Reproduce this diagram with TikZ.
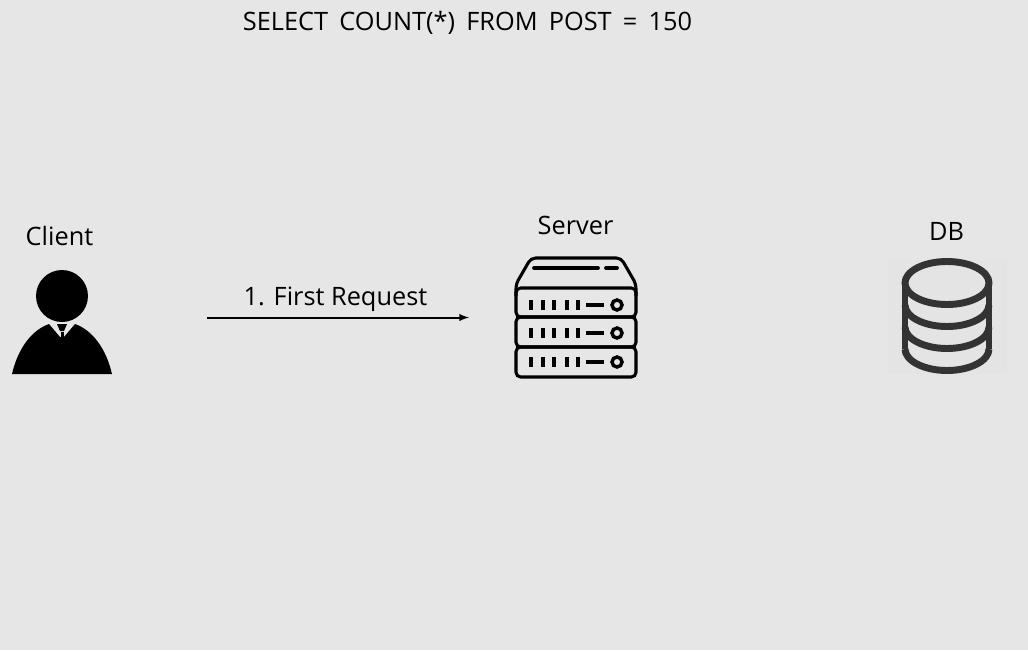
\documentclass[tikz,border=0pt]{standalone}
\usepackage{fontspec}
\setmainfont{Open Sans}
\definecolor{bggray}{HTML}{E6E6E6}
\definecolor{dbgray}{HTML}{333333}
\tikzset{
  label/.style = {font=\fontsize{19}{24}\selectfont, text=black, inner sep=0pt, anchor=base},
  rack/.style = {draw=black, line width=2.3pt, rounded corners=3.5pt},
  slot/.style = {draw=black, line width=2.8pt},
  dbline/.style = {draw=dbgray, line width=5.2pt}
}

\begin{document}
\begin{tikzpicture}[x=0.75pt, y=-0.75pt]
  \fill[bggray] (0,0) rectangle (1028,650);
  \useasboundingbox (0,0) rectangle (1028,650);

  \node[label] (query) at (467.5,30) {\spaceskip=8.4pt SELECT COUNT(*) FROM POST = 150};
  \node[label] (client) at (59.5,245) {Client};
  \node[label] (server) at (575.5,234) {Server};
  \node[label] (db) at (946.5,240) {DB};

  % client
  \fill[black] (62,296) circle (26);
  \fill[black] (12,374) .. controls (18,348) and (32,330) .. (49,324) -- (60,337) -- (64,337)
    -- (75,324) .. controls (92,330) and (106,348) .. (112,374) -- cycle;
  \fill[black] (57,324) -- (67,324) -- (64,331) -- (60,331) -- cycle;
  \fill[black] (60.5,332) rectangle (63.5,338);

  % arrow
  \node[label] (request) at (335.5,305) {1. First Request};
  \coordinate (reqstart) at (207,317.5);
  \coordinate (reqend) at (469,317.5);
  \draw[-latex, line width=1.5pt] (reqstart) -- (reqend);

  % server
  \draw[rack] (516,296) -- (516,284) -- (531,258) -- (621,258) -- (636,284) -- (636,296);
  \draw[slot, line cap=round] (534,268) -- (598,268);
  \draw[slot, line cap=round] (606,268) -- (617,268);
  \foreach \top/\bot in {288/317, 317/347, 347/377} {
    \draw[rack] (516,\top) rectangle (636,\bot);
  }
  \foreach \y in {305, 333, 362} {
    \foreach \x in {531, 543, 554, 567, 578} {
      \draw[slot] (\x,\y-5) -- (\x,\y+5);
    }
    \draw[slot] (586,\y) -- (604,\y);
    \draw[black, line width=2.6pt] (617,\y) circle (5);
  }

  % db
  \fill[black!1!bggray] (888,260) rectangle (1007,374);
  \draw[dbline] (947,283) ellipse (42 and 21.5);
  \draw[dbline] (905,283) -- (905,349);
  \draw[dbline] (989,283) -- (989,349);
  \foreach \y in {305, 327, 349} {
    \draw[dbline] (905,\y) .. controls (905,\y+11.8) and (924,\y+21.5) .. (947,\y+21.5)
      .. controls (970,\y+21.5) and (989,\y+11.8) .. (989,\y);
  }
\end{tikzpicture}
\end{document}
